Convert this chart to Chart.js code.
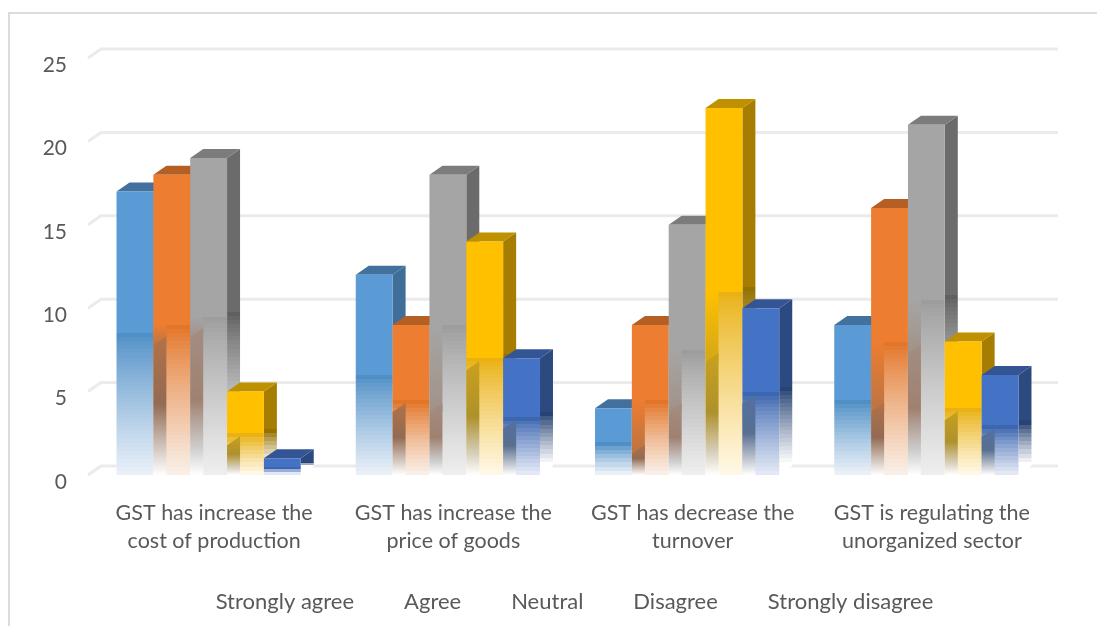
<!DOCTYPE html>
<html>
<head>
<meta charset="utf-8">
<title>GST survey responses</title>
<script src="https://cdn.jsdelivr.net/npm/chart.js@4"></script>
<style>
  body { margin: 0; background: #fff; }
  #frame { position: absolute; left: 8px; top: 12px; right: 0; bottom: 0; border-left: 2px solid #dcdcdc; border-top: 2px solid #dcdcdc; }
  canvas { position: absolute; left: 0; top: 0; }
</style>
</head>
<body>
<div id="frame"></div>
<canvas id="gst_canvas" width="1097" height="626"></canvas>
<script>
var categories = [
  ['GST has increase the', 'cost of production'],
  ['GST has increase the', 'price of goods'],
  ['GST has decrease the', 'turnover'],
  ['GST is regulating the', 'unorganized sector']
];
var seriesNames = ['Strongly agree', 'Agree', 'Neutral', 'Disagree', 'Strongly disagree'];
var stronglyAgree = [17, 12, 4, 9];
var agree = [18, 9, 9, 16];
var neutral = [19, 18, 15, 21];
var disagree = [5, 14, 22, 8];
var stronglyDisagree = [1, 7, 10, 6];
var seriesValues = [stronglyAgree, agree, neutral, disagree, stronglyDisagree];

// [face, face at the start of the fade, face at the base, side, top, left strip tint]
var palette = [
  ['#5b9bd5', '#4f8fc6', '#e9f0f8', '#3f6f99', '#41719c', '#5b9bd5'],
  ['#ed7d31', '#e37528', '#f9efe7', '#ae5a23', '#b55f24', '#4a5c6e'],
  ['#a5a5a5', '#9d9d9d', '#eeeeee', '#6b6b6b', '#7c7c7c', '#9c6444'],
  ['#ffc000', '#e9b114', '#fff8e6', '#a67d00', '#bf9000', '#6b6b50'],
  ['#4472c4', '#3c66b0', '#e2e8f5', '#2c4a80', '#335593', '#6b6d65']
];

var DEPTH_X = 13, DEPTH_Y = -9;
var TEXT_COLOR = '#595959';
var GRID_COLOR = '#ebebeb';

function hexToRgb(hex) {
  return [parseInt(hex.substr(1, 2), 16), parseInt(hex.substr(3, 2), 16), parseInt(hex.substr(5, 2), 16)];
}
function mix(a, b, t) {
  var c1 = hexToRgb(a), c2 = hexToRgb(b);
  var out = '#';
  for (var i = 0; i < 3; i++) {
    var v = Math.round(c1[i] + (c2[i] - c1[i]) * t);
    out += (v < 16 ? '0' : '') + v.toString(16);
  }
  return out;
}

// solid for the top half, then a stepped fade towards the base
function fadeGradient(ctx, top, base, solid, fadeFrom, fadeTo) {
  var g = ctx.createLinearGradient(0, top, 0, base);
  g.addColorStop(0, solid);
  g.addColorStop(0.5, solid);
  var steps = Math.max(3, Math.round((base - top) / 8));
  for (var i = 0; i < steps; i++) {
    var c = mix(fadeFrom, fadeTo, Math.pow(i / (steps - 1), 0.85));
    g.addColorStop(0.5 + 0.5 * i / steps, c);
    g.addColorStop(0.5 + 0.5 * (i + 1) / steps, c);
  }
  return g;
}

function faceColor(context) {
  var colors = palette[context.datasetIndex];
  if (context.type !== 'data' || !context.parsed) return colors[0];
  var y = context.chart.scales.y;
  if (!y) return colors[0];
  return fadeGradient(context.chart.ctx, y.getPixelForValue(context.parsed.y), y.getPixelForValue(0),
    colors[0], colors[1], colors[2]);
}

function drawBackWall(chart) {
  var ctx = chart.ctx, y = chart.scales.y, area = chart.chartArea;
  ctx.save();
  ctx.strokeStyle = GRID_COLOR;
  ctx.lineWidth = 3;
  y.ticks.forEach(function (tick) {
    var py = y.getPixelForValue(tick.value);
    ctx.beginPath();
    ctx.moveTo(area.left - 1, py);
    ctx.lineTo(area.left - 1 + DEPTH_X, py + DEPTH_Y);
    ctx.lineTo(area.right + DEPTH_X - 1, py + DEPTH_Y);
    ctx.stroke();
  });
  ctx.restore();
}

function drawSides(chart, meta) {
  var ctx = chart.ctx, colors = palette[meta.index];
  meta.data.forEach(function (bar) {
    var right = bar.x + bar.width / 2, left = bar.x - bar.width / 2;
    ctx.fillStyle = fadeGradient(ctx, bar.y, bar.base + DEPTH_Y, colors[3], mix(colors[3], '#000000', 0.1), '#ffffff');
    ctx.beginPath();
    ctx.moveTo(right, bar.y);
    ctx.lineTo(right + DEPTH_X, bar.y + DEPTH_Y);
    ctx.lineTo(right + DEPTH_X, bar.base + DEPTH_Y);
    ctx.lineTo(right, bar.base);
    ctx.closePath();
    ctx.fill();
    ctx.fillStyle = colors[4];
    ctx.beginPath();
    ctx.moveTo(left, bar.y);
    ctx.lineTo(left + DEPTH_X, bar.y + DEPTH_Y);
    ctx.lineTo(right + DEPTH_X, bar.y + DEPTH_Y);
    ctx.lineTo(right, bar.y);
    ctx.closePath();
    ctx.fill();
  });
}

// the neighbouring bar's side shows as a dark strip down the left of each face
function drawStrips(chart, meta, prevMeta) {
  if (!prevMeta) return;
  var ctx = chart.ctx, colors = palette[meta.index], tint = colors[5];
  meta.data.forEach(function (bar, i) {
    var prev = prevMeta.data[i];
    var left = bar.x - bar.width / 2;
    var ownHalf = (bar.y + bar.base) / 2;
    var start = Math.max((prev.y + prev.base) / 2, ownHalf);
    var bottom = bar.base;
    if (bottom - start < 14) return;

    // the face darkens gradually above the strip when this bar is the taller one
    if (start > ownHalf) {
      var lead = ctx.createLinearGradient(0, ownHalf, 0, start + 12);
      lead.addColorStop(0, colors[0]);
      lead.addColorStop(1, mix(colors[0], tint, 0.3));
      ctx.fillStyle = lead;
      ctx.fillRect(left, ownHalf, DEPTH_X, start + 12 - ownHalf);
    }

    var g = ctx.createLinearGradient(0, start, 0, bottom);
    g.addColorStop(0, mix(colors[0], tint, 0.35));
    g.addColorStop(0.5, mix(colors[0], tint, 0.55));
    g.addColorStop(0.82, mix(colors[0], '#d2d2d2', 0.9));
    g.addColorStop(1, '#ffffff');
    ctx.fillStyle = g;
    ctx.beginPath();
    ctx.moveTo(left, start + 12);
    ctx.lineTo(left + DEPTH_X, start + 3);
    ctx.lineTo(left + DEPTH_X, bottom);
    ctx.lineTo(left, bottom);
    ctx.closePath();
    ctx.fill();
  });
}

var depthBars = {
  id: 'depthBars',
  beforeDatasetsDraw: function (chart) {
    drawBackWall(chart);
    // left to right, so each face covers the side of the bar before it
    var metas = chart.getSortedVisibleDatasetMetas();
    metas.forEach(function (meta, i) {
      drawSides(chart, meta);
      meta.controller.draw();
      drawStrips(chart, meta, metas[i - 1]);
    });
    return false;
  }
};

var datasets = [];
for (var i = 0; i < seriesNames.length; i++) {
  datasets.push({
    label: seriesNames[i],
    data: seriesValues[i],
    backgroundColor: faceColor,
    borderWidth: 0
  });
}

var chart = new Chart(document.getElementById('gst_canvas'), {
  type: 'bar',
  data: { labels: categories, datasets: datasets },
  plugins: [depthBars],
  options: {
    responsive: false,
    animation: false,
    layout: { padding: { top: 58, left: 5, right: 0, bottom: 3 } },
    datasets: { bar: { barPercentage: 1, categoryPercentage: 0.77 } },
    scales: {
      x: {
        grid: { display: false, drawTicks: false },
        border: { display: false },
        ticks: {
          color: TEXT_COLOR,
          font: { family: 'Lato', size: 21.5, lineHeight: 1.3 },
          padding: 24,
          labelOffset: 5.5,
          maxRotation: 0,
          autoSkip: false
        },
        afterFit: function (scale) {
          scale.height = 113;
          // room on the right for the back wall, without moving the centred legend
          scale.paddingRight = 51;
        }
      },
      y: {
        min: 0,
        max: 25,
        grid: { display: false, drawTicks: false },
        border: { display: false },
        ticks: {
          color: TEXT_COLOR,
          font: { family: 'Lato', size: 21 },
          stepSize: 5,
          padding: 22,
          labelOffset: 7
        },
        afterFit: function (scale) { scale.width = 84; }
      }
    },
    plugins: {
      tooltip: { enabled: false },
      legend: {
        position: 'bottom',
        labels: {
          color: TEXT_COLOR,
          font: { family: 'Lato', size: 22 },
          boxWidth: 36,
          boxHeight: 0,
          padding: 3,
          generateLabels: function (c) {
            return c.data.datasets.map(function (ds, i) {
              return { text: ds.label, fillStyle: 'rgba(0,0,0,0)', strokeStyle: 'rgba(0,0,0,0)', lineWidth: 0, fontColor: TEXT_COLOR, datasetIndex: i };
            });
          }
        }
      }
    }
  }
});
</script>
</body>
</html>
